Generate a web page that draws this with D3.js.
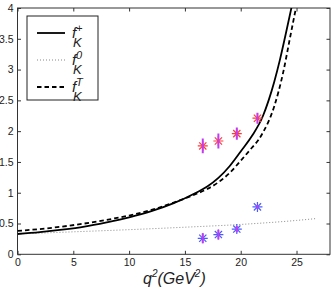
<!DOCTYPE html>
<html>
<head>
<meta charset="utf-8">
<script src="https://cdn.jsdelivr.net/npm/d3@7"></script>
<style>
  body { margin: 0; background: #fff; }
  text { font-family: "Liberation Sans", Arial, sans-serif; fill: #222; }
</style>
</head>
<body>
<svg id="chart" width="332" height="288"></svg>
<script>
// form factor curves
var fPlusQ2 = [0, 2, 4, 6, 8, 10, 12, 14, 16, 17, 18, 19, 20, 21, 22, 22.5, 23, 23.5, 24, 24.6];
var fPlusVal = [0.33, 0.36, 0.40, 0.45, 0.52, 0.60, 0.70, 0.83, 1.00, 1.10, 1.24, 1.43, 1.67, 1.92, 2.25, 2.50, 2.80, 3.15, 3.55, 4.05];

var fZeroQ2 = [0, 5, 10, 15, 20, 25, 26.75];
var fZeroVal = [0.33, 0.365, 0.40, 0.44, 0.485, 0.55, 0.58];

var fTQ2 = [0, 2, 4, 6, 8, 10, 12, 14, 16, 17, 18, 19, 20, 21, 21.6, 22, 23, 23.8, 24.4, 25.0];
var fTVal = [0.38, 0.41, 0.45, 0.50, 0.56, 0.63, 0.72, 0.84, 0.98, 1.06, 1.17, 1.32, 1.52, 1.73, 1.86, 1.98, 2.40, 2.95, 3.50, 4.05];

// lattice points
var latQ2 = [16.6, 18.0, 19.65, 21.5];
var latPlus = [1.76, 1.84, 1.96, 2.21];
var latPlusErr = [0.12, 0.12, 0.10, 0.09];
var latZero = [0.26, 0.32, 0.41, 0.77];
var latZeroErr = [0.08, 0.08, 0.05, 0.03];

var xTicks = [0, 5, 10, 15, 20, 25];
var yTicks = [0, 0.5, 1, 1.5, 2, 2.5, 3, 3.5, 4];

var svg = d3.select("#chart");
var padL = 17.5, padR = 330, padT = 8, padB = 254.3;

var x = d3.scaleLinear().domain([0, 28]).range([padL, padR]);
var y = d3.scaleLinear().domain([0, 4]).range([padB, padT]);

svg.append("defs").append("clipPath").attr("id", "clip")
  .append("rect").attr("x", padL).attr("y", padT)
  .attr("width", padR - padL).attr("height", padB - padT);

function axisStyle(g) {
  g.select(".domain").remove();
  g.selectAll(".tick line").attr("stroke", "#333");
  g.selectAll(".tick text").attr("font-size", "10.5px").attr("fill", "#222");
}

svg.append("g").attr("transform", "translate(0," + padB + ")")
  .call(d3.axisBottom(x).tickValues(xTicks).tickSize(-3.5).tickPadding(4).tickFormat(d3.format("")))
  .call(axisStyle);
svg.append("g").attr("transform", "translate(0," + padT + ")")
  .call(d3.axisTop(x).tickValues(xTicks).tickSize(-3.5).tickFormat(""))
  .call(axisStyle);
svg.append("g").attr("transform", "translate(" + padL + ",0)")
  .call(d3.axisLeft(y).tickValues(yTicks).tickSize(-3.5).tickPadding(4).tickFormat(d3.format("")))
  .call(axisStyle);
svg.append("g").attr("transform", "translate(" + padR + ",0)")
  .call(d3.axisRight(y).tickValues(yTicks).tickSize(-3.5).tickFormat(""))
  .call(axisStyle);

svg.append("rect").attr("x", padL).attr("y", padT)
  .attr("width", padR - padL).attr("height", padB - padT)
  .attr("fill", "none").attr("stroke", "#333").attr("stroke-width", 1);

var plot = svg.append("g").attr("clip-path", "url(#clip)");

function curve(qs, vs) {
  return d3.line().curve(d3.curveMonotoneX)
    .x(function (d, i) { return x(qs[i]); })
    .y(function (d, i) { return y(vs[i]); })(qs);
}

plot.append("path").attr("d", curve(fZeroQ2, fZeroVal))
  .attr("fill", "none").attr("stroke", "#888").attr("stroke-width", 1)
  .attr("stroke-dasharray", "1,2");
plot.append("path").attr("d", curve(fTQ2, fTVal))
  .attr("fill", "none").attr("stroke", "#000").attr("stroke-width", 1.8)
  .attr("stroke-dasharray", "4.5,3");
plot.append("path").attr("d", curve(fPlusQ2, fPlusVal))
  .attr("fill", "none").attr("stroke", "#000").attr("stroke-width", 1.8);

function stars(vals, errs, color) {
  var g = plot.append("g");
  latQ2.forEach(function (q, i) {
    var cx = x(q), cy = y(vals[i]), r = 5, d = r * 0.72;
    var s = g.append("g").attr("stroke", color).attr("stroke-width", 1.2);
    s.append("line").attr("x1", cx - r).attr("x2", cx + r).attr("y1", cy).attr("y2", cy);
    s.append("line").attr("x1", cx - d).attr("x2", cx + d).attr("y1", cy - d).attr("y2", cy + d);
    s.append("line").attr("x1", cx - d).attr("x2", cx + d).attr("y1", cy + d).attr("y2", cy - d);
    s.append("line").attr("x1", cx).attr("x2", cx).attr("y1", cy - r).attr("y2", cy + r);
    g.append("line").attr("x1", cx).attr("x2", cx)
      .attr("y1", y(vals[i] + errs[i])).attr("y2", y(vals[i] - errs[i]))
      .attr("stroke", "#c03cf0").attr("stroke-width", 2);
  });
}
stars(latPlus, latPlusErr, "#ff3a3a");
stars(latZero, latZeroErr, "#4a5cff");

// legend
var lg = svg.append("g");
lg.append("rect").attr("x", 27).attr("y", 16).attr("width", 71).attr("height", 84)
  .attr("fill", "#fff").attr("stroke", "#222").attr("stroke-width", 1);
var legendRows = [
  { sup: "+", y: 33, dash: null, color: "#000", w: 1.8 },
  { sup: "0", y: 60, dash: "1,2", color: "#888", w: 1 },
  { sup: "T", y: 87, dash: "4.5,3", color: "#000", w: 1.8 }
];
legendRows.forEach(function (r) {
  lg.append("line").attr("x1", 37).attr("x2", 65).attr("y1", r.y).attr("y2", r.y)
    .attr("stroke", r.color).attr("stroke-width", r.w)
    .attr("stroke-dasharray", r.dash);
  lg.append("text").attr("x", 72).attr("y", r.y + 5).attr("font-size", "15px")
    .attr("font-style", "italic").text("f");
  lg.append("text").attr("x", 76).attr("y", r.y - 1).attr("font-size", "11px")
    .attr("font-style", "italic").text(r.sup);
  lg.append("text").attr("x", 73).attr("y", r.y + 14).attr("font-size", "13px")
    .attr("font-style", "italic").text("K");
});

// x axis title
var xt = svg.append("text").attr("x", 143).attr("y", 284)
  .attr("font-size", "16px").attr("font-style", "italic");
xt.append("tspan").text("q");
xt.append("tspan").attr("font-size", "10px").attr("dy", -7).text("2");
xt.append("tspan").attr("dy", 7).text("(GeV");
xt.append("tspan").attr("font-size", "10px").attr("dy", -7).text("2");
xt.append("tspan").attr("dy", 7).text(")");
</script>
</body>
</html>
